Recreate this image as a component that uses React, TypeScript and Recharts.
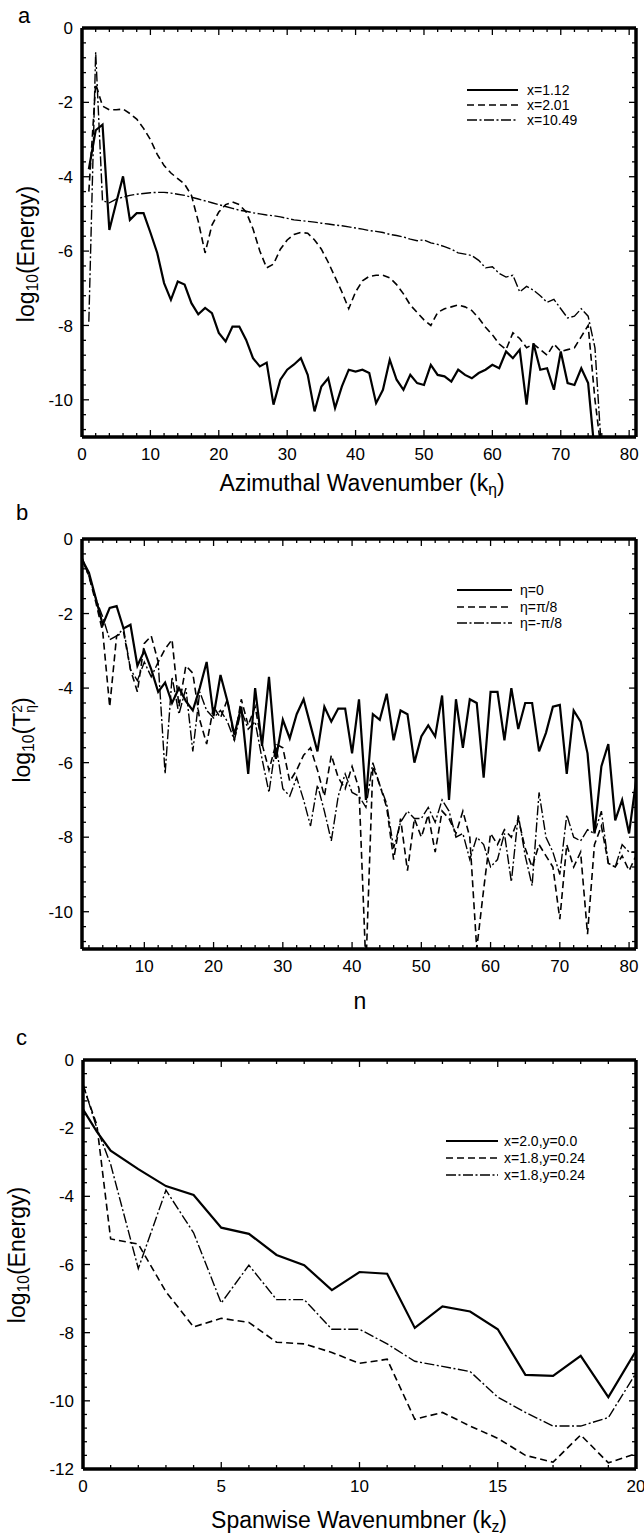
import React from 'react';
import { LineChart, Line, XAxis, YAxis, Legend } from 'recharts';

const FONT = '"Liberation Sans", Arial, Helvetica, sans-serif';

// ---------------- Panel a ----------------
const aK = [
  1, 2, 3, 4, 5, 6, 7, 8, 9, 10, 11, 12, 13, 14, 15, 16, 17, 18, 19, 20,
  21, 22, 23, 24, 25, 26, 27, 28, 29, 30, 31, 32, 33, 34, 35, 36, 37, 38, 39, 40,
  41, 42, 43, 44, 45, 46, 47, 48, 49, 50, 51, 52, 53, 54, 55, 56, 57, 58, 59, 60,
  61, 62, 63, 64, 65, 66, 67, 68, 69, 70, 71, 72, 73, 74, 75, 76,
];
const aX112 = [
  -3.8, -2.75, -2.6, -5.43, -4.7, -3.99, -5.16, -4.98, -4.98, -5.5,
  -6.05, -6.86, -7.31, -6.82, -6.9, -7.4, -7.7, -7.53, -7.67, -8.2,
  -8.43, -8.03, -8.03, -8.39, -8.88, -9.1, -9.0, -10.13, -9.46, -9.19,
  -9.05, -8.88, -9.33, -10.31, -9.64, -9.42, -10.22, -9.64, -9.19, -9.24,
  -9.19, -9.28, -10.09, -9.73, -8.92, -9.46, -9.73, -9.33, -9.55, -9.6,
  -9.06, -9.33, -9.37, -9.51, -9.19, -9.33, -9.42, -9.28, -9.19, -9.06,
  -9.15, -8.7, -8.88, -8.65, -10.13, -8.48, -9.19, -9.15, -9.73, -8.7,
  -9.55, -9.6, -9.15, -9.55, -11.5, null,
];
const aX201 = [
  -4.4, -1.5, -2.1, -2.2, -2.2, -2.18, -2.3, -2.45, -2.7, -3.0,
  -3.4, -3.7, -3.9, -4.05, -4.2, -4.5, -5.2, -6.05, -5.3, -4.95,
  -4.75, -4.68, -4.75, -4.95, -5.4, -6.0, -6.45, -6.35, -5.95, -5.7,
  -5.55, -5.5, -5.52, -5.7, -5.95, -6.3, -6.7, -7.1, -7.55, -7.1,
  -6.8, -6.68, -6.65, -6.65, -6.72, -6.9, -7.15, -7.45, -7.65, -7.85,
  -8.0, -7.65, -7.55, -7.5, -7.45, -7.5, -7.6, -7.8, -8.05, -8.25,
  -8.5, -8.65, -8.2, -8.35, -8.6, -8.5, -8.65, -8.8, -8.5, -8.7,
  -8.65, -8.6, -8.3, -8.0, -10.0, -11.5,
];
const aX1049 = [
  -7.9, -0.65, -4.65, -4.7, -4.6, -4.55, -4.5, -4.47, -4.45, -4.43,
  -4.42, -4.42, -4.44, -4.47, -4.5, -4.55, -4.6, -4.65, -4.7, -4.75,
  -4.8, -4.85, -4.9, -4.93, -4.97, -5.0, -5.03, -5.05, -5.08, -5.12,
  -5.16, -5.18, -5.2, -5.22, -5.25, -5.27, -5.3, -5.32, -5.35, -5.38,
  -5.41, -5.45, -5.47, -5.5, -5.55, -5.58, -5.62, -5.68, -5.72, -5.7,
  -5.78, -5.82, -5.88, -5.95, -6.05, -6.08, -6.12, -6.25, -6.45, -6.42,
  -6.6, -6.7, -6.65, -7.1, -6.95, -7.05, -7.2, -7.38, -7.3, -7.55,
  -7.8, -7.75, -7.55, -7.75, -8.6, -11.5,
];
const aNames = ['x=1.12', 'x=2.01', 'x=10.49'];
const aXMajor = [0, 10, 20, 30, 40, 50, 60, 70, 80];
const aYMajor = [0, -2, -4, -6, -8, -10];

// ---------------- Panel b ----------------
const bN = [
  1, 2, 3, 4, 5, 6, 7, 8, 9, 10, 11, 12, 13, 14, 15, 16, 17, 18, 19, 20,
  21, 22, 23, 24, 25, 26, 27, 28, 29, 30, 31, 32, 33, 34, 35, 36, 37, 38, 39, 40,
  41, 42, 43, 44, 45, 46, 47, 48, 49, 50, 51, 52, 53, 54, 55, 56, 57, 58, 59, 60,
  61, 62, 63, 64, 65, 66, 67, 68, 69, 70, 71, 72, 73, 74, 75, 76, 77, 78, 79, 80, 81,
];
const bEta0 = [
  -0.55, -0.9, -1.6, -2.3, -1.85, -1.8, -2.4, -2.3, -3.4, -3.0,
  -3.5, -4.1, -3.85, -4.4, -4.0, -4.35, -4.6, -4.0, -3.3, -4.75,
  -3.65, -4.35, -5.25, -4.5, -6.3, -4.0, -5.55, -3.7, -5.9, -4.85,
  -5.35, -4.7, -4.3, -5.0, -5.7, -4.5, -4.9, -4.55, -4.55, -5.75,
  -4.3, -7.0, -4.7, -4.85, -4.15, -5.4, -4.6, -4.7, -6.0, -5.3,
  -5.0, -5.3, -4.2, -7.0, -4.3, -5.6, -4.3, -4.4, -6.4, -4.1,
  -4.1, -5.4, -4.0, -5.1, -4.4, -4.4, -5.7, -5.2, -4.5, -4.45,
  -6.3, -4.6, -4.9, -5.75, -7.9, -6.1, -5.5, -7.55, -7.0, -7.9, -6.5,
];
const bEtaP = [
  -0.5, -1.0, -1.7, -2.5, -4.5, -2.6, -2.5, -3.5, -4.1, -2.8,
  -2.6, -3.3, -2.95, -2.7, -4.5, -3.4, -3.6, -4.85, -5.5, -4.5,
  -4.8, -4.3, -5.4, -4.3, -5.0, -4.5, -5.5, -6.2, -5.5, -5.6,
  -6.5, -6.2, -5.8, -5.6, -6.2, -6.9, -5.8, -6.4, -6.7, -6.1,
  -6.7, -11.5, -6.1, -6.6, -7.2, -8.6, -7.5, -8.9, -7.5, -8.0,
  -7.4, -8.4, -7.3, -7.5, -7.9, -7.3, -8.0, -11.0, -9.4, -7.9,
  -8.2, -7.8, -8.0, -7.5, -8.3, -8.8, -8.2, -8.5, -8.8, -10.2,
  -8.2, -8.8, -8.4, -10.6, -8.2, -7.7, -8.7, -8.8, -8.5, -8.9, -8.5,
];
const bEtaM = [
  -0.55, -1.0, -1.6, -2.1, -2.7, -2.6, -2.4, -3.5, -3.8, -3.3,
  -3.7, -3.3, -6.3, -3.7, -4.7, -4.0, -5.7, -4.1, -4.6, -4.8,
  -4.6, -4.9, -5.4, -4.6, -5.1, -4.9, -5.9, -6.8, -5.5, -6.7,
  -6.9, -6.4, -7.0, -7.7, -6.6, -7.3, -8.1, -6.9, -6.3, -6.8,
  -6.9, -7.2, -6.0, -6.6, -7.1, -8.3, -7.6, -7.3, -7.5, -7.5,
  -7.2, -7.6, -7.0, -7.3, -8.0, -7.9, -8.6, -8.0, -8.2, -8.8,
  -8.6, -7.9, -9.2, -7.4, -8.5, -9.3, -6.8, -8.0, -8.4, -9.0,
  -7.4, -8.0, -8.1, -7.8, -7.9, -7.3, -8.7, -8.8, -8.2, -8.4, -8.4,
];
const bNames = ['\u03b7=0', '\u03b7=\u03c0/8', '\u03b7=-\u03c0/8'];
const bXMajor = [10, 20, 30, 40, 50, 60, 70, 80];
const bYMajor = [0, -2, -4, -6, -8, -10];

// ---------------- Panel c ----------------
const cKz = [0, 0.5, 1, 2, 3, 4, 5, 6, 7, 8, 9, 10, 11, 12, 13, 14, 15, 16, 17, 18, 19, 20];
const cSolid = [
  -1.45, -2.1, -2.66, -3.2, -3.7, -3.96, -4.92, -5.1, -5.72, -6.02, -6.75,
  -6.22, -6.27, -7.86, -7.23, -7.38, -7.9, -9.24, -9.27, -8.68, -9.89, -8.53,
];
const cDashed = [
  -0.75, -1.9, -5.25, -5.4, -6.8, -7.83, -7.58, -7.7, -8.28, -8.33, -8.58,
  -8.9, -8.78, -10.54, -10.34, -10.74, -11.1, -11.6, -11.8, -11.0, -11.82, -11.55,
];
const cDashDot = [
  -0.7, -2.0, -3.06, -6.12, -3.82, -5.07, -7.13, -6.02, -7.03, -7.03, -7.9,
  -7.9, -8.33, -8.84, -8.99, -9.14, -9.89, -10.34, -10.74, -10.74, -10.49, -9.19,
];
const cNames = ['x=2.0,y=0.0', 'x=1.8,y=0.24', 'x=1.8,y=0.24'];
const cXMajor = [0, 5, 10, 15, 20];
const cYMajor = [0, -2, -4, -6, -8, -10, -12];

// ---------------- styling ----------------
const STYLES = [
  { width: 2.2, legendWidth: 1.8, dash: undefined as string | undefined },
  { width: 1.6, legendWidth: 1.6, dash: '7 4' },
  { width: 1.4, legendWidth: 1.6, dash: '10 2.5 2 2.5' },
];
const FRAME = { stroke: '#000', strokeWidth: 3.5 };

const steps = (from: number, to: number, step: number) => {
  const out: number[] = [];
  const n = Math.round((to - from) / step);
  for (let i = 0; i <= n; i++) out.push(Math.round((from + i * step) * 1000) / 1000);
  return out;
};
const near = (a: number, b: number) => Math.abs(a - b) < 1e-6;

function XTick(props: any) {
  const { x, y, payload, majors, plotH } = props;
  const v = payload.value;
  const major = majors.some((m: number) => near(m, v));
  const len = major ? 7 : 4;
  return (
    <g>
      <line x1={x} y1={y} x2={x} y2={y - len} stroke="#000" strokeWidth={1.3} />
      <line x1={x} y1={y - plotH} x2={x} y2={y - plotH + len} stroke="#000" strokeWidth={1.3} />
      {major ? (
        <text x={x} y={y + 23} textAnchor="middle" fontSize={17} fontFamily={FONT} fill="#000">
          {String(v)}
        </text>
      ) : null}
    </g>
  );
}

function YTick(props: any) {
  const { x, y, payload, majors, plotW } = props;
  const v = payload.value;
  const major = majors.some((m: number) => near(m, v));
  const len = major ? 7 : 4;
  return (
    <g>
      <line x1={x} y1={y} x2={x + len} y2={y} stroke="#000" strokeWidth={1.3} />
      <line x1={x + plotW} y1={y} x2={x + plotW - len} y2={y} stroke="#000" strokeWidth={1.3} />
      {major ? (
        <text x={x - 9} y={y} dy="0.36em" textAnchor="end" fontSize={17} fontFamily={FONT} fill="#000">
          {String(v)}
        </text>
      ) : null}
    </g>
  );
}

function LegendBox({ names, lineW, gap, rowH }: { names: string[]; lineW: number; gap: number; rowH: number }) {
  return (
    <div style={{ fontFamily: FONT, fontSize: 14, color: '#000', lineHeight: 1 }}>
      {names.map((n, i) => (
        <div key={i} style={{ display: 'flex', alignItems: 'center', height: rowH, whiteSpace: 'nowrap' }}>
          <svg width={lineW} height={6} style={{ display: 'block' }}>
            <line x1={0} y1={3} x2={lineW} y2={3} stroke="#000" strokeWidth={STYLES[i].legendWidth} strokeDasharray={STYLES[i].dash} />
          </svg>
          <span style={{ marginLeft: gap }}>{n}</span>
        </div>
      ))}
    </div>
  );
}

type PanelProps = {
  top: number;
  height: number;
  margin: { top: number; right: number; bottom: number; left: number };
  xs: number[];
  series: (number | null)[][];
  names: string[];
  xDomain: [number, number];
  yDomain: [number, number];
  xTicks: number[];
  yTicks: number[];
  xMajor: number[];
  yMajor: number[];
  legend: { left: number; top: number; lineW: number; gap: number; rowH: number };
};

function Panel(p: PanelProps) {
  const yAxisW = 50;
  const xAxisH = 40;
  // thin mirror axes at top/right (1px each) carry the frame lines
  const plotW = 644 - p.margin.left - p.margin.right - yAxisW - 1;
  const plotH = p.height - p.margin.top - p.margin.bottom - xAxisH - 1;
  const rows = p.xs.map((x, i) => ({ x, s0: p.series[0][i], s1: p.series[1][i], s2: p.series[2][i] }));
  return (
    <div style={{ position: 'absolute', left: 0, top: p.top, width: 644, height: p.height }}>
      <LineChart width={644} height={p.height} data={rows} margin={p.margin}>
        <XAxis
          xAxisId="b"
          dataKey="x"
          type="number"
          domain={p.xDomain}
          allowDataOverflow
          ticks={p.xTicks}
          interval={0}
          height={xAxisH}
          tickSize={0}
          tickMargin={0}
          tickLine={false}
          axisLine={FRAME}
          tick={<XTick majors={p.xMajor} plotH={plotH} />}
        />
        <XAxis
          xAxisId="t"
          orientation="top"
          dataKey="x"
          type="number"
          domain={p.xDomain}
          allowDataOverflow
          height={1}
          tick={false}
          tickLine={false}
          axisLine={FRAME}
        />
        <YAxis
          yAxisId="l"
          type="number"
          domain={p.yDomain}
          allowDataOverflow
          ticks={p.yTicks}
          interval={0}
          width={yAxisW}
          tickSize={0}
          tickMargin={0}
          tickLine={false}
          axisLine={FRAME}
          tick={<YTick majors={p.yMajor} plotW={plotW} />}
        />
        <YAxis
          yAxisId="r"
          orientation="right"
          type="number"
          domain={p.yDomain}
          allowDataOverflow
          width={1}
          tick={false}
          tickLine={false}
          axisLine={FRAME}
        />
        {[0, 1, 2].map((i) => (
          <Line
            key={i}
            xAxisId="b"
            yAxisId="l"
            dataKey={'s' + i}
            name={p.names[i]}
            type="linear"
            stroke="#000"
            strokeWidth={STYLES[i].width}
            strokeDasharray={STYLES[i].dash}
            dot={false}
            activeDot={false}
            connectNulls={false}
            isAnimationActive={false}
          />
        ))}
        <Legend
          layout="vertical"
          align="center"
          verticalAlign="middle"
          wrapperStyle={{ left: p.legend.left, top: p.legend.top, width: 200, height: 3 * p.legend.rowH }}
          content={() => <LegendBox names={p.names} lineW={p.legend.lineW} gap={p.legend.gap} rowH={p.legend.rowH} />}
        />
      </LineChart>
    </div>
  );
}

const abs = (extra: React.CSSProperties): React.CSSProperties => ({
  position: 'absolute',
  whiteSpace: 'nowrap',
  lineHeight: 1,
  fontFamily: FONT,
  color: '#000',
  ...extra,
});
const subStyle: React.CSSProperties = { fontSize: '0.68em', verticalAlign: '-0.28em' };

function YTitle({ cx, cy, children }: { cx: number; cy: number; children: React.ReactNode }) {
  return (
    <div style={abs({ left: cx, top: cy, fontSize: 23, transform: 'translate(-50%,-50%) rotate(-90deg)' })}>
      {children}
    </div>
  );
}

export default function App() {
  return (
    <div style={{ position: 'absolute', left: 0, top: 0, width: 644, height: 1535, background: '#fff', overflow: 'hidden' }}>
      <Panel
        top={0}
        height={500}
        margin={{ top: 27, right: 7, bottom: 23, left: 32 }}
        xs={aK}
        series={[aX112, aX201, aX1049]}
        names={aNames}
        xDomain={[0, 81]}
        yDomain={[-11, 0]}
        xTicks={steps(0, 80, 2)}
        yTicks={steps(-10.8, 0, 0.4)}
        xMajor={aXMajor}
        yMajor={aYMajor}
        legend={{ left: 467, top: 82, lineW: 51, gap: 9, rowH: 15 }}
      />
      <Panel
        top={500}
        height={520}
        margin={{ top: 38, right: 7, bottom: 31, left: 32 }}
        xs={bN}
        series={[bEta0, bEtaP, bEtaM]}
        names={bNames}
        xDomain={[1, 81]}
        yDomain={[-11, 0]}
        xTicks={steps(2, 80, 2)}
        yTicks={steps(-10.8, 0, 0.4)}
        xMajor={bXMajor}
        yMajor={bYMajor}
        legend={{ left: 457, top: 82, lineW: 55, gap: 8, rowH: 16.5 }}
      />
      <Panel
        top={1020}
        height={515}
        margin={{ top: 39, right: 7, bottom: 26, left: 33 }}
        xs={cKz}
        series={[cSolid, cDashed, cDashDot]}
        names={cNames}
        xDomain={[0, 20]}
        yDomain={[-12, 0]}
        xTicks={steps(0, 20, 1)}
        yTicks={steps(-12, 0, 0.4)}
        xMajor={cXMajor}
        yMajor={cYMajor}
        legend={{ left: 446, top: 112, lineW: 52, gap: 6, rowH: 17 }}
      />

      {/* panel letters */}
      <div style={abs({ left: 18, top: 5, fontSize: 22 })}>a</div>
      <div style={abs({ left: 16, top: 502, fontSize: 22 })}>b</div>
      <div style={abs({ left: 16, top: 1027, fontSize: 22 })}>c</div>

      {/* axis titles */}
      <YTitle cx={28} cy={254}>
        log<span style={subStyle}>10</span>(Energy)
      </YTitle>
      <YTitle cx={24} cy={740}>
        log<span style={subStyle}>10</span>(T
        <span style={{ display: 'inline-block', verticalAlign: 'middle', fontSize: '0.6em', lineHeight: 0.95, textAlign: 'left' }}>
          <span style={{ display: 'block' }}>2</span>
          <span style={{ display: 'block' }}>{'\u03b7'}</span>
        </span>
        )
      </YTitle>
      <YTitle cx={19} cy={1255}>
        log<span style={subStyle}>10</span>(Energy)
      </YTitle>

      <div style={abs({ left: 362, top: 472, fontSize: 23, transform: 'translateX(-50%)' })}>
        Azimuthal Wavenumber (k<span style={subStyle}>{'\u03b7'}</span>)
      </div>
      <div style={abs({ left: 360, top: 990, fontSize: 23, transform: 'translateX(-50%)' })}>n</div>
      <div style={abs({ left: 359, top: 1509, fontSize: 23, transform: 'translateX(-50%)' })}>
        Spanwise Wavenumbner (k<span style={subStyle}>z</span>)
      </div>
    </div>
  );
}
